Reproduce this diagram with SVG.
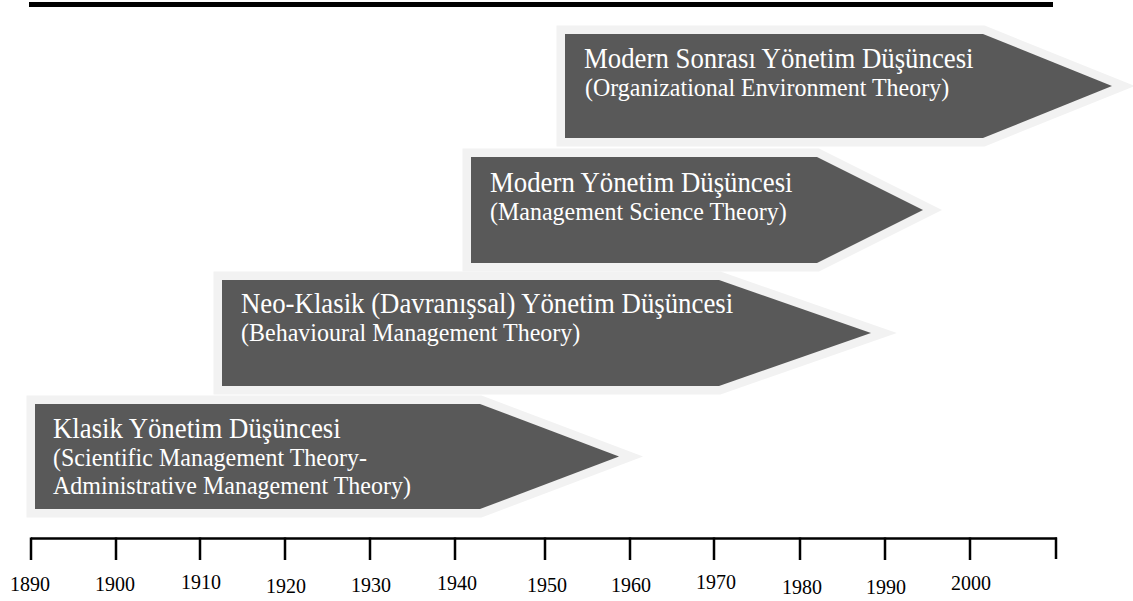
<svg xmlns="http://www.w3.org/2000/svg" width="1133" height="601" viewBox="0 0 1133 601">
  <style>
    .era { fill: #595959; stroke: #f2f2f2; stroke-width: 17; stroke-linejoin: miter; paint-order: stroke; }
    .title { font-family: "Liberation Serif", "Times New Roman", serif; font-size: 26.8px; fill: #ffffff; }
    .sub { font-family: "Liberation Serif", "Times New Roman", serif; font-size: 24px; fill: #ffffff; }
    .year { font-family: "Liberation Serif", "Times New Roman", serif; font-size: 20px; fill: #000000; text-anchor: middle; }
    .axis { stroke: #000000; stroke-width: 2.5; fill: none; }
  </style>

  <!-- header rule -->
  <rect x="29" y="2" width="1024" height="5" fill="#000000"/>

  <!-- eras, drawn as arrow-shaped pentagons; text slightly stretched vertically -->
  <g id="modern-sonrasi">
    <polygon class="era" points="565,34 983,34 1112,86 983,138 565,138"/>
    <text class="title" transform="matrix(1 0 0 1.08 584 68)">Modern Sonrası Yönetim Düşüncesi</text>
    <text class="sub" transform="matrix(1 0 0 1.08 585 96)">(Organizational Environment Theory)</text>
  </g>

  <g id="modern">
    <polygon class="era" points="471,157 817,157 923,210 817,263 471,263"/>
    <text class="title" transform="matrix(1 0 0 1.08 490 192)">Modern Yönetim Düşüncesi</text>
    <text class="sub" transform="matrix(1 0 0 1.08 490 220)">(Management Science Theory)</text>
  </g>

  <g id="neo-klasik">
    <polygon class="era" points="222,280 719,280 871,333 719,386 222,386"/>
    <text class="title" transform="matrix(1 0 0 1.08 241 313)">Neo-Klasik (Davranışsal) Yönetim Düşüncesi</text>
    <text class="sub" transform="matrix(1 0 0 1.08 241 341)">(Behavioural Management Theory)</text>
  </g>

  <g id="klasik">
    <polygon class="era" points="35,404 480,404 619,456.5 480,509 35,509"/>
    <text class="title" transform="matrix(1 0 0 1.08 53 438)">Klasik Yönetim Düşüncesi</text>
    <text class="sub" transform="matrix(1 0 0 1.08 53 466)">(Scientific Management Theory-</text>
    <text class="sub" transform="matrix(1 0 0 1.08 53 494)">Administrative Management Theory)</text>
  </g>

  <!-- time axis -->
  <g id="axis">
    <path class="axis" d="M31,538.5 H1057"/>
    <path class="axis" d="M31,537.5 V560 M116,537.5 V560 M200,537.5 V560 M285,537.5 V560 M370,537.5 V560 M455,537.5 V560 M545,537.5 V560 M630,537.5 V560 M714,537.5 V560 M800,537.5 V560 M885,537.5 V560 M970,537.5 V560 M1056,537.5 V559"/>
    <text class="year" transform="matrix(1 0 0 1.1 30 591)">1890</text>
    <text class="year" transform="matrix(1 0 0 1.1 115 591)">1900</text>
    <text class="year" transform="matrix(1 0 0 1.1 201 589)">1910</text>
    <text class="year" transform="matrix(1 0 0 1.1 286 593)">1920</text>
    <text class="year" transform="matrix(1 0 0 1.1 371 592)">1930</text>
    <text class="year" transform="matrix(1 0 0 1.1 457 590)">1940</text>
    <text class="year" transform="matrix(1 0 0 1.1 547 592)">1950</text>
    <text class="year" transform="matrix(1 0 0 1.1 631 592)">1960</text>
    <text class="year" transform="matrix(1 0 0 1.1 716 589)">1970</text>
    <text class="year" transform="matrix(1 0 0 1.1 802 594)">1980</text>
    <text class="year" transform="matrix(1 0 0 1.1 886 594)">1990</text>
    <text class="year" transform="matrix(1 0 0 1.1 971 590)">2000</text>
  </g>
</svg>
